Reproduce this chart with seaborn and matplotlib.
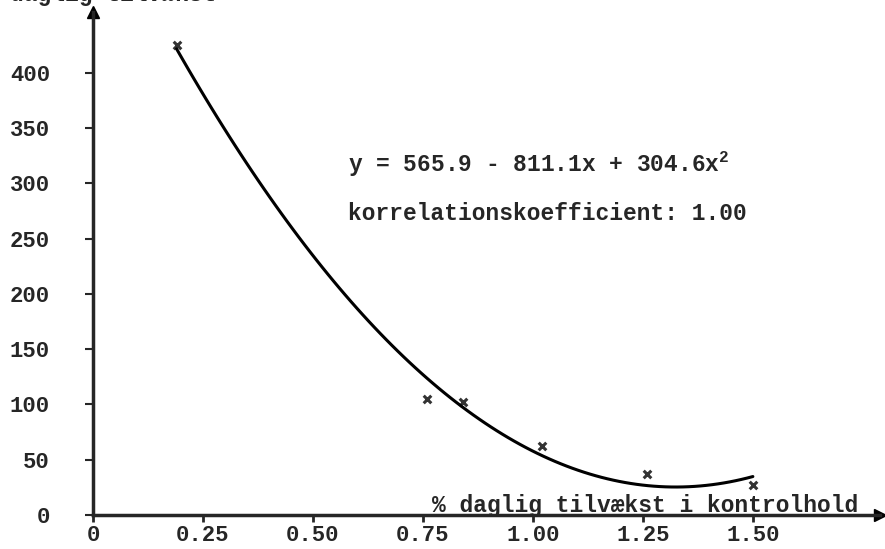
import numpy as np
import pandas as pd
import seaborn as sns
import matplotlib.pyplot as plt

growth_control = [0.19, 0.76, 0.84, 1.02, 1.26, 1.50]
growth_value = [425, 105, 102, 62, 37, 27]
x_ticks = [0, 0.25, 0.50, 0.75, 1.00, 1.25, 1.50]
x_tick_labels = ["0", "0.25", "0.50", "0.75", "1.00", "1.25", "1.50"]
y_ticks = [0, 50, 100, 150, 200, 250, 300, 350, 400]
equation = "y = 565.9 - 811.1x + 304.6x$^2$"
corr_text = "korrelationskoefficient: 1.00"
x_title = "% daglig tilvækst i kontrolhold"
y_title = "daglig tilvækst"

df = pd.DataFrame({"x": growth_control, "y": growth_value})

sns.set_style("ticks")
plt.rcParams["font.family"] = ["Liberation Mono", "DejaVu Sans Mono"]
plt.rcParams["font.weight"] = "bold"
plt.rcParams["mathtext.fontset"] = "custom"
plt.rcParams["mathtext.rm"] = "Liberation Mono:bold"
plt.rcParams["mathtext.it"] = "Liberation Mono:bold"
plt.rcParams["mathtext.bf"] = "Liberation Mono:bold"

fig = plt.figure(figsize=(8.85, 5.49), dpi=100)
ax = fig.add_axes([93 / 885, 34 / 549, 787 / 885, 503 / 549])

sns.regplot(data=df, x="x", y="y", order=2, ci=None, ax=ax, marker="x",
            scatter_kws=dict(s=30, color="black", linewidths=2.2),
            line_kws=dict(color="black", lw=2.2))

ax.set_xlim(0, 1.789)
ax.set_ylim(0, 455)
ax.set_xlabel("")
ax.set_ylabel("")
ax.set_xticks(x_ticks)
ax.set_xticklabels(x_tick_labels)
ax.set_yticks(y_ticks)
ax.tick_params(axis="x", length=5, width=2, pad=2, labelsize=16)
ax.tick_params(axis="y", length=6, width=1.5, pad=25, labelsize=16)

sns.despine(ax=ax)
for side in ["left", "bottom"]:
    ax.spines[side].set_linewidth(2.5)

# arrow heads on the axes
ax.plot(1, 0, ">k", ms=9, transform=ax.get_yaxis_transform(), clip_on=False)
ax.plot(0, 1, "^k", ms=9, transform=ax.get_xaxis_transform(), clip_on=False)

ax.text(0.77, 3, x_title, fontsize=16.5, va="baseline", ha="left")
ax.text(0.58, 310, equation, fontsize=16.5, va="baseline", ha="left")
ax.text(0.58, 267, corr_text, fontsize=16.5, va="baseline", ha="left")

# label at the top is cut by the page edge in the original scan
fig.text(10 / 885, 1 - 1 / 549, y_title, fontsize=16.5, va="baseline", ha="left")

fig.savefig("out.png", dpi=100)
